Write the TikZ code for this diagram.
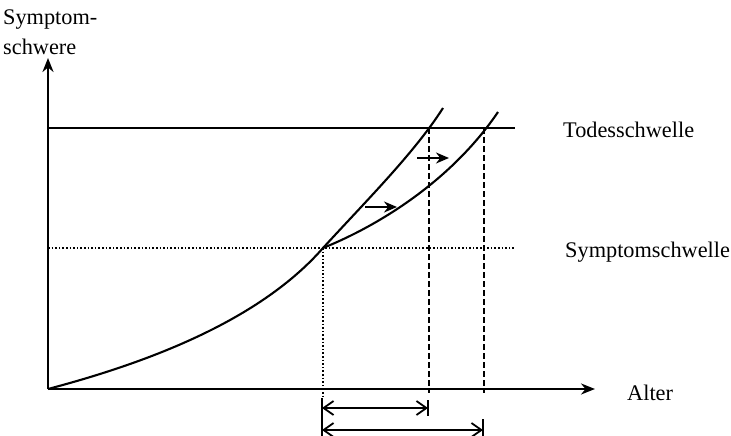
\documentclass[tikz,border=0pt]{standalone}
\usepackage{fontspec}
\setmainfont{Liberation Serif}
\usetikzlibrary{arrows.meta}
\begin{document}
\begin{tikzpicture}[x=1pt,y=-1pt,
  axis/.style={line width=2.2pt,-{Stealth[length=14pt,width=11pt]}},
  curve/.style={line width=2.1pt},
  thresh/.style={line width=2.3pt},
  dottedline/.style={line width=1.6pt,dash pattern=on 1.6pt off 2pt},
  dashedline/.style={line width=1.7pt,dash pattern=on 6pt off 3pt},
  lbl/.style={anchor=base west,inner sep=0pt,font=\fontsize{22.3}{26}\selectfont},
  shiftarrow/.style={line width=2.1pt,-{Stealth[length=13pt,width=11pt]}},
  span/.style={line width=1.8pt,{Straight Barb[length=10pt,width=14pt,line width=1.8pt]}-{Straight Barb[length=10pt,width=14pt,line width=1.8pt]}},
  bar/.style={line width=2pt}]
\useasboundingbox (0,0) rectangle (731,436);
% key points
\coordinate (O) at (48,389);
\coordinate (ytop) at (48,58);
\coordinate (xend) at (595,389);
\coordinate (T0) at (48,128);
\coordinate (T1) at (515,128);
\coordinate (S0) at (48,248);
\coordinate (S1) at (514,248);
\coordinate (P) at (323,248);
\coordinate (C1end) at (443,108);
\coordinate (C2end) at (498,112);
\coordinate (D1) at (429,128);
\coordinate (D2) at (484,128);
\coordinate (D1b) at (429,393);
\coordinate (D2b) at (484,393);
\coordinate (Pb) at (323,398);
% axes
\draw[axis] (O) -- (ytop);
\draw[axis] (O) -- (xend);
% thresholds
\draw[thresh] (T0) -- (T1);
\draw[dottedline] (S0) -- (S1);
\draw[dottedline] (P) -- (Pb);
% curves
\draw[curve] (O) .. controls (150,362) and (260,320) .. (P)
  .. controls (368,199) and (415,152) .. (C1end);
\draw[curve] (P) .. controls (380,225) and (452,180) .. (C2end);
% dashed verticals
\draw[dashedline] (D1) -- (D1b);
\draw[dashedline] (D2) -- (D2b);
% shift arrows
\coordinate (a1s) at (365,207);
\coordinate (a1e) at (397,207);
\coordinate (a2s) at (417,158);
\coordinate (a2e) at (449,158);
\draw[shiftarrow] (a1s) -- (a1e);
\draw[shiftarrow] (a2s) -- (a2e);
% bottom spans
\coordinate (b0t) at (322,398);
\coordinate (b0b) at (322,437);
\coordinate (b1t) at (428,400);
\coordinate (b1b) at (428,416);
\coordinate (b2t) at (483,419);
\coordinate (b2b) at (483,437);
\draw[bar] (b0t) -- (b0b);
\draw[bar] (b1t) -- (b1b);
\draw[bar] (b2t) -- (b2b);
\coordinate (s1l) at (322,408);
\coordinate (s1r) at (428,408);
\coordinate (s2l) at (322,430);
\coordinate (s2r) at (483,430);
\draw[span] (s1l) -- (s1r);
\draw[span] (s2l) -- (s2r);
% labels
\node[lbl] (ylab1) at (3,25) {Symptom-};
\node[lbl] (ylab2) at (3,55) {schwere};
\node[lbl] (xlab) at (627,400) {Alter};
\node[lbl] (tlab) at (563,137) {Todesschwelle};
\node[lbl] (slab) at (565,257) {Symptomschwelle};
\end{tikzpicture}
\end{document}
